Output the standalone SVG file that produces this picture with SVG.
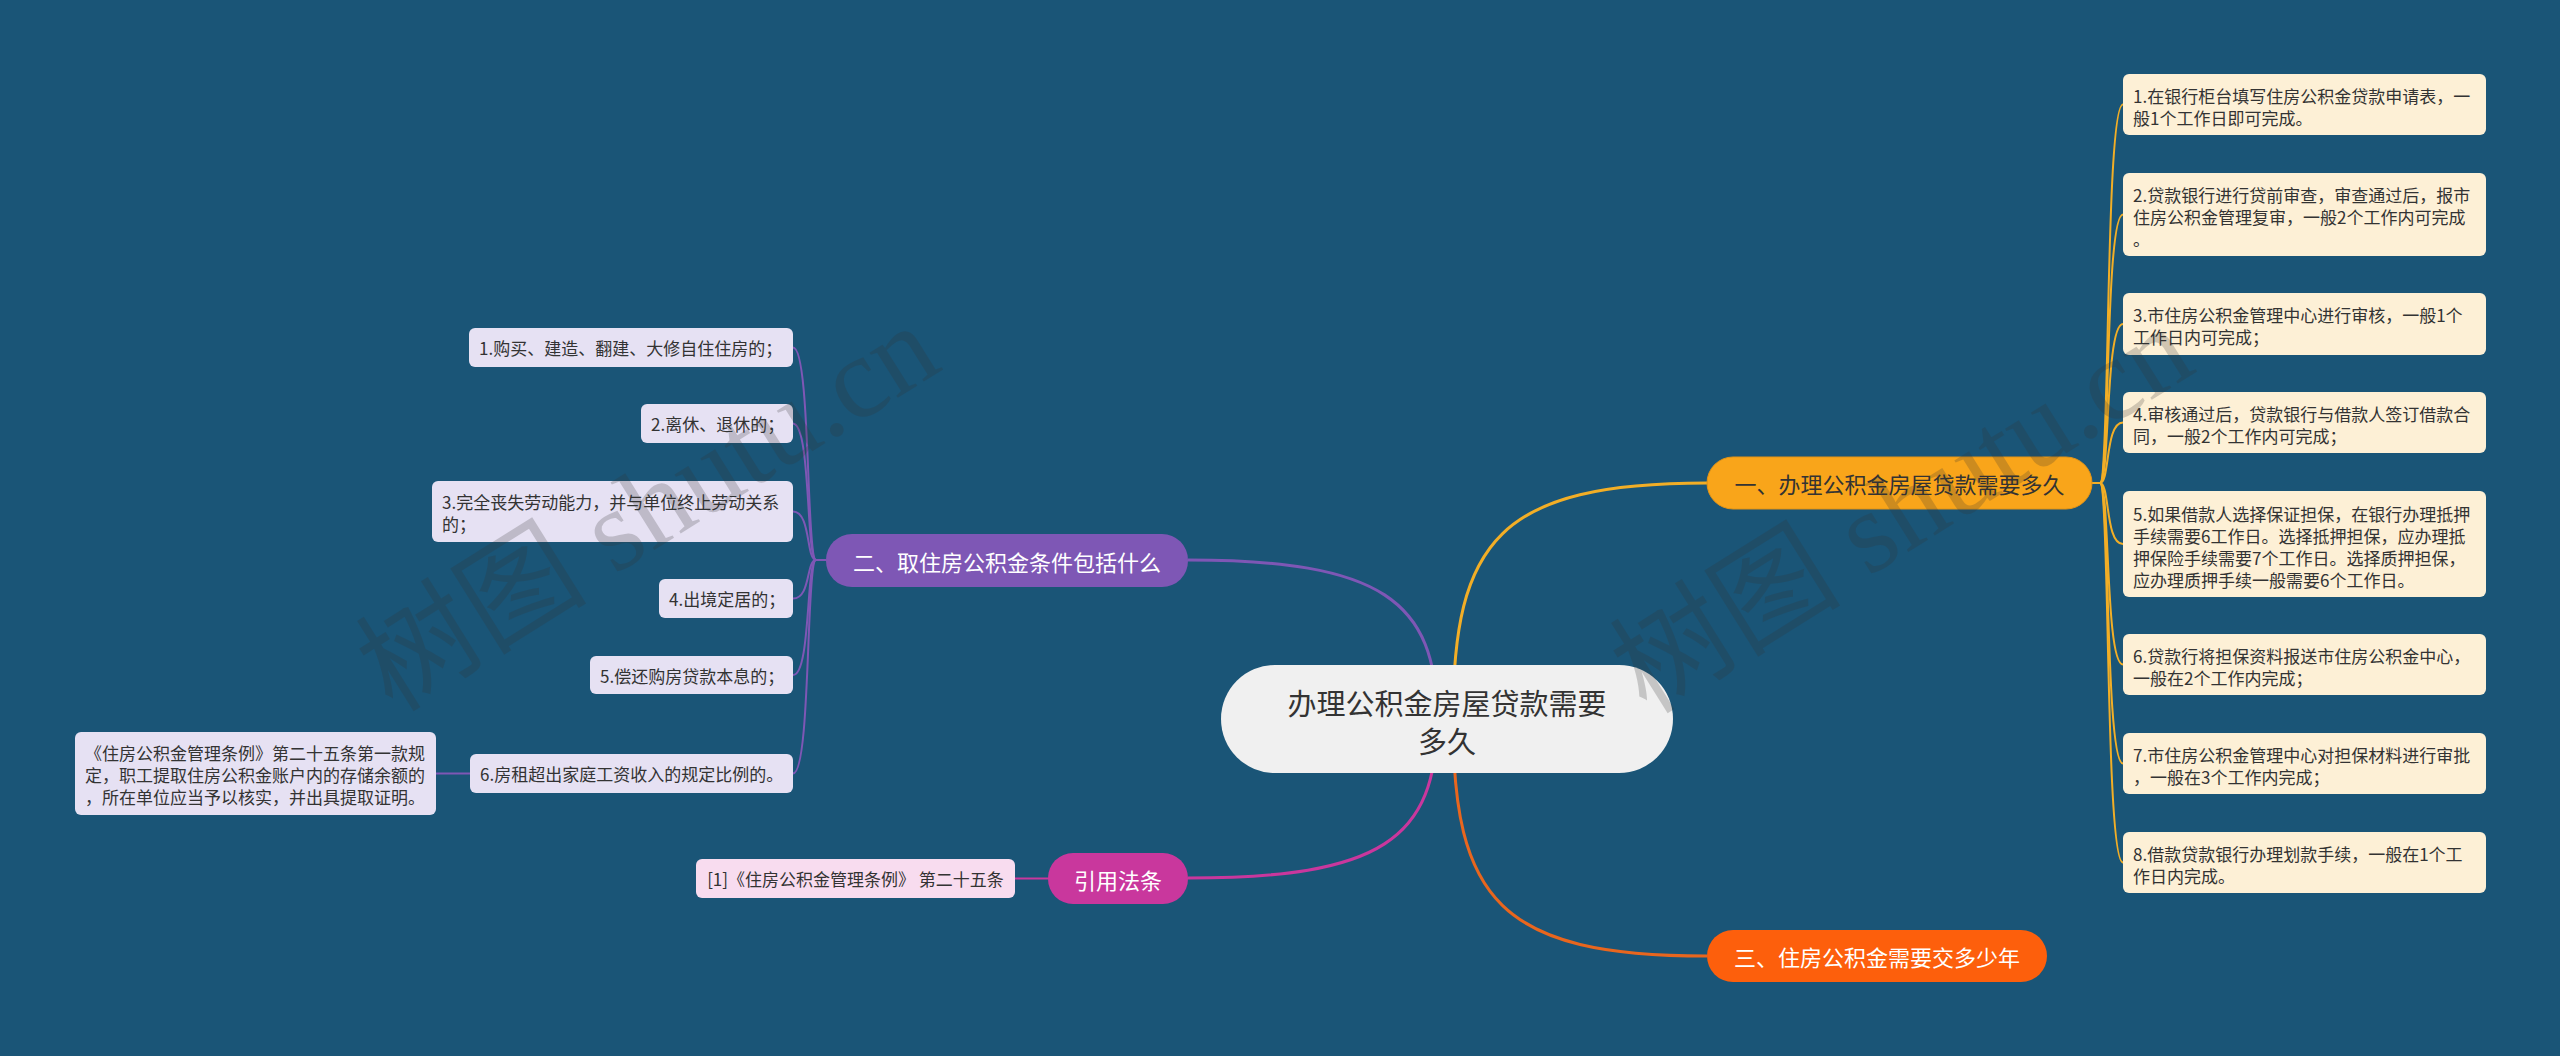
<svg xmlns="http://www.w3.org/2000/svg" width="2560" height="1056" viewBox="0 0 2560 1056">
<style>
text{font-family:"Noto Sans CJK SC","Liberation Sans",sans-serif;}
.leafR{fill:#fdf0d6;}
.leafL{fill:#e6e1f3;}
.t17{font-size:17px;fill:#333;dominant-baseline:central;}
.t22{font-size:22px;dominant-baseline:central;text-anchor:middle;}
.cy{fill:none;stroke:#f2ae26;stroke-width:2;}
.cp{fill:none;stroke:#7e57b5;stroke-width:2;}
.wm{font-family:"Liberation Serif","Noto Sans CJK SC",serif;font-size:116px;fill:#333;opacity:0.22;}
</style>
<rect width="2560" height="1056" fill="#1a5577"/>

<g id="connectors">
  <path d="M1453 719 C1453 540 1500 483 1707 483" fill="none" stroke="#f2ae26" stroke-width="3"/>
  <path d="M1437 719 C1437 600 1380 560 1188 560" fill="none" stroke="#7e57b5" stroke-width="3"/>
  <path d="M1437 719 C1437 840 1380 878 1188 878" fill="none" stroke="#c9379d" stroke-width="3"/>
  <path d="M1453 719 C1453 900 1500 956 1707 956" fill="none" stroke="#e8661e" stroke-width="3"/>
  <path class="cy" d="M2092 483 L2100 483 C2110 483 2105 104.5 2123 104.5"/>
  <path class="cy" d="M2092 483 L2100 483 C2110 483 2105 214.5 2123 214.5"/>
  <path class="cy" d="M2092 483 L2100 483 C2110 483 2105 324 2123 324"/>
  <path class="cy" d="M2092 483 L2100 483 C2110 483 2105 422.5 2123 422.5"/>
  <path class="cy" d="M2092 483 L2100 483 C2110 483 2105 544 2123 544"/>
  <path class="cy" d="M2092 483 L2100 483 C2110 483 2105 664.5 2123 664.5"/>
  <path class="cy" d="M2092 483 L2100 483 C2110 483 2105 763.5 2123 763.5"/>
  <path class="cy" d="M2092 483 L2100 483 C2110 483 2105 862.5 2123 862.5"/>
  <path class="cp" d="M826 560 L816 560 C806 560 811 347.5 793 347.5"/>
  <path class="cp" d="M826 560 L816 560 C806 560 811 423.5 793 423.5"/>
  <path class="cp" d="M826 560 L816 560 C806 560 811 511.5 793 511.5"/>
  <path class="cp" d="M826 560 L816 560 C806 560 811 598.5 793 598.5"/>
  <path class="cp" d="M826 560 L816 560 C806 560 811 675 793 675"/>
  <path class="cp" d="M826 560 L816 560 C806 560 811 773.5 793 773.5"/>
  <path class="cp" d="M470 773.5 L436 773.5"/>
  <path d="M1048 878.5 L1015 878.5" fill="none" stroke="#c9379d" stroke-width="2"/>
</g>

<g id="root">
  <rect x="1221" y="665" width="452" height="108" rx="54" fill="#f0f0f0"/>
  <text x="1447" y="702" style="font-size:29px;fill:#333;text-anchor:middle;dominant-baseline:central">办理公积金房屋贷款需要</text>
  <text x="1447" y="740" style="font-size:29px;fill:#333;text-anchor:middle;dominant-baseline:central">多久</text>
</g>

<g id="b1">
  <rect x="1707" y="457" width="385" height="52" rx="26" fill="#f9a51a" stroke="#e39416" stroke-width="1"/>
  <text class="t22" x="1899.5" y="483" fill="#333">一、办理公积金房屋贷款需要多久</text>
</g>
<g id="b2">
  <rect x="826" y="534" width="362" height="53" rx="26" fill="#7e57b5"/>
  <text class="t22" x="1007" y="560.5" fill="#fff">二、取住房公积金条件包括什么</text>
</g>
<g id="b3">
  <rect x="1048" y="853" width="140" height="51" rx="25" fill="#c9379d"/>
  <text class="t22" x="1118" y="878.5" fill="#fff">引用法条</text>
</g>
<g id="b4">
  <rect x="1707" y="930" width="340" height="52" rx="26" fill="#fd5f0c"/>
  <text class="t22" x="1877" y="956" fill="#fff">三、住房公积金需要交多少年</text>
</g>

<g id="r1">
  <rect class="leafR" x="2123" y="74" width="363" height="61" rx="6"/>
  <text class="t17" x="2133" y="95">1.在银行柜台填写住房公积金贷款申请表，一</text>
  <text class="t17" x="2133" y="117">般1个工作日即可完成。</text>
</g>
<g id="r2">
  <rect class="leafR" x="2123" y="173" width="363" height="83" rx="6"/>
  <text class="t17" x="2133" y="194">2.贷款银行进行贷前审查，审查通过后，报市</text>
  <text class="t17" x="2133" y="216">住房公积金管理复审，一般2个工作内可完成</text>
  <text class="t17" x="2133" y="238">。</text>
</g>
<g id="r3">
  <rect class="leafR" x="2123" y="293" width="363" height="62" rx="6"/>
  <text class="t17" x="2133" y="314.5">3.市住房公积金管理中心进行审核，一般1个</text>
  <text class="t17" x="2133" y="336.5">工作日内可完成；</text>
</g>
<g id="r4">
  <rect class="leafR" x="2123" y="392" width="363" height="61" rx="6"/>
  <text class="t17" x="2133" y="413">4.审核通过后，贷款银行与借款人签订借款合</text>
  <text class="t17" x="2133" y="435">同，一般2个工作内可完成；</text>
</g>
<g id="r5">
  <rect class="leafR" x="2123" y="491" width="363" height="106" rx="6"/>
  <text class="t17" x="2133" y="513">5.如果借款人选择保证担保，在银行办理抵押</text>
  <text class="t17" x="2133" y="535">手续需要6工作日。选择抵押担保，应办理抵</text>
  <text class="t17" x="2133" y="557">押保险手续需要7个工作日。选择质押担保，</text>
  <text class="t17" x="2133" y="579">应办理质押手续一般需要6个工作日。</text>
</g>
<g id="r6">
  <rect class="leafR" x="2123" y="634" width="363" height="61" rx="6"/>
  <text class="t17" x="2133" y="655">6.贷款行将担保资料报送市住房公积金中心，</text>
  <text class="t17" x="2133" y="677">一般在2个工作内完成；</text>
</g>
<g id="r7">
  <rect class="leafR" x="2123" y="733" width="363" height="61" rx="6"/>
  <text class="t17" x="2133" y="754">7.市住房公积金管理中心对担保材料进行审批</text>
  <text class="t17" x="2133" y="776">，一般在3个工作内完成；</text>
</g>
<g id="r8">
  <rect class="leafR" x="2123" y="832" width="363" height="61" rx="6"/>
  <text class="t17" x="2133" y="853">8.借款贷款银行办理划款手续，一般在1个工</text>
  <text class="t17" x="2133" y="875">作日内完成。</text>
</g>

<g id="l1">
  <rect class="leafL" x="469" y="328" width="324" height="39" rx="6"/>
  <text class="t17" x="479" y="347.5">1.购买、建造、翻建、大修自住住房的；</text>
</g>
<g id="l2">
  <rect class="leafL" x="641" y="404" width="152" height="39" rx="6"/>
  <text class="t17" x="651" y="423.5">2.离休、退休的；</text>
</g>
<g id="l3">
  <rect class="leafL" x="432" y="481" width="361" height="61" rx="6"/>
  <text class="t17" x="442" y="501.5">3.完全丧失劳动能力，并与单位终止劳动关系</text>
  <text class="t17" x="442" y="523.5">的；</text>
</g>
<g id="l4">
  <rect class="leafL" x="659" y="579" width="134" height="39" rx="6"/>
  <text class="t17" x="669" y="598.5">4.出境定居的；</text>
</g>
<g id="l5">
  <rect class="leafL" x="590" y="656" width="203" height="38" rx="6"/>
  <text class="t17" x="600" y="675">5.偿还购房贷款本息的；</text>
</g>
<g id="l6">
  <rect class="leafL" x="470" y="754" width="323" height="39" rx="6"/>
  <text class="t17" x="480" y="773.5">6.房租超出家庭工资收入的规定比例的。</text>
</g>
<g id="l6a">
  <rect class="leafL" x="75" y="732" width="361" height="83" rx="6"/>
  <text class="t17" x="85" y="752.5">《住房公积金管理条例》第二十五条第一款规</text>
  <text class="t17" x="85" y="774.5">定，职工提取住房公积金账户内的存储余额的</text>
  <text class="t17" x="85" y="796.5">，所在单位应当予以核实，并出具提取证明。</text>
</g>
<g id="cite1">
  <rect x="696" y="859" width="319" height="39" rx="6" fill="#f8dcef"/>
  <text class="t17" x="855.5" y="878.5" text-anchor="middle">[1]《住房公积金管理条例》 第二十五条</text>
</g>

<g id="watermark">
  <text class="wm" x="648" y="508" text-anchor="middle" dominant-baseline="central" transform="rotate(-32 648 508)">树图 shutu.cn</text>
  <text class="wm" x="1902" y="510" text-anchor="middle" dominant-baseline="central" transform="rotate(-32 1902 510)">树图 shutu.cn</text>
</g>
</svg>
